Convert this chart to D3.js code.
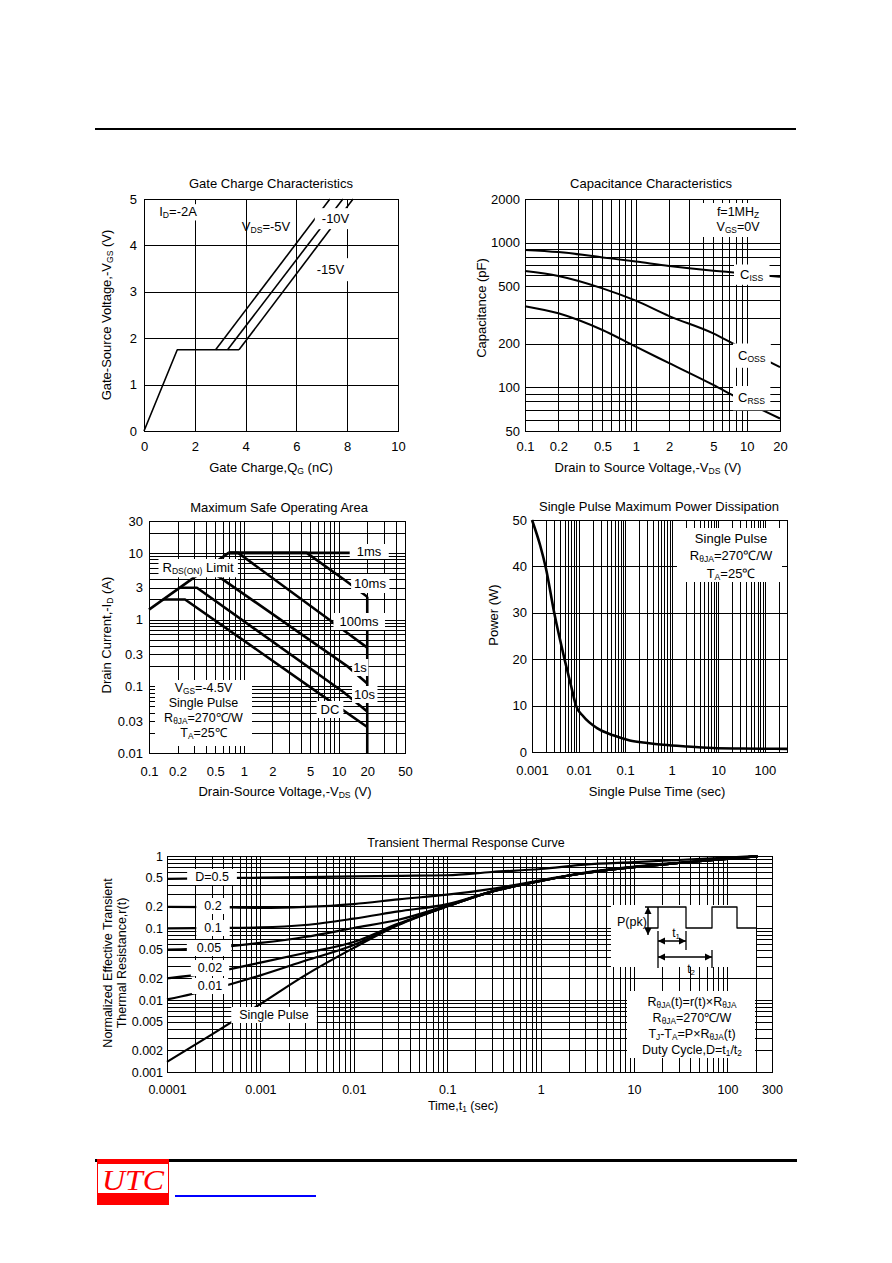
<!DOCTYPE html>
<html lang="en">
<head>
<meta charset="UTF-8">
<title>MOSFET typical characteristics</title>
<script src="https://cdn.jsdelivr.net/npm/d3@7"></script>
<style>
  body { margin: 0; background: #fff; }
  svg { display: block; }
  text { font-family: "Liberation Sans", Arial, sans-serif; fill: #000; }
  .grid line { stroke: #000; stroke-width: 1; shape-rendering: crispEdges; }
  .frame { fill: none; stroke: #000; stroke-width: 1; shape-rendering: crispEdges; }
  .curve { fill: none; stroke: #000; stroke-linejoin: round; }
</style>
</head>
<body>
<script>
// ---------- Gate charge ----------
var gcQ = [0, 1.31, 3.74];            // common rise and plateau (nC)
var gcVgs = [0, 1.75, 1.75];
var gcVdsNames = ["-5V", "-10V", "-15V"];
var gcRiseStart = [2.82, 3.29, 3.74]; // Qg where each line leaves the plateau
var gcRiseEnd = [7.32, 7.83, 8.23];   // Qg where each line reaches 5 V
var gcPlateau = 1.75;
var gcXTicks = [0, 2, 4, 6, 8, 10];
var gcYTicks = [0, 1, 2, 3, 4, 5];

// ---------- Capacitance ----------
var capVds = [0.1, 0.2, 0.5, 1, 2, 5, 8, 20];
var capCiss = [890, 860, 790, 740, 690, 640, 620, 580];
var capCoss = [636, 588, 483, 397, 311, 236, 196, 138];
var capCrss = [364, 325, 249, 191, 147, 104, 86, 61];
var capXTicks = [0.1, 0.2, 0.5, 1, 2, 5, 10, 20];
var capYTicks = [50, 100, 200, 500, 1000, 2000];

// ---------- Safe operating area ----------
var soaRdsV = [0.1, 0.69],             soaRdsI = [1.41, 10];
var soa1msV = [0.69, 20],              soa1msI = [10, 10];
var soa10msV = [0.69, 4.6, 11.65, 20], soa10msI = [10, 10, 3.88, 2.2];
var soa100msV = [0.69, 0.87, 8.1, 20], soa100msI = [10, 10, 0.975, 0.38];
var soa1sV = [0.32, 0.52, 12.6, 20],   soa1sI = [4.6, 4.6, 0.195, 0.11];
var soa10sV = [0.21, 0.32, 11.2, 20],  soa10sI = [3, 3, 0.082, 0.042];
var soaDcV = [0.14, 0.24, 8.4, 20],    soaDcI = [2, 2, 0.058, 0.0245];
var soaBvV = [20, 20],                 soaBvI = [2.2, 0.01];
var soaXTicks = [0.1, 0.2, 0.5, 1, 2, 5, 10, 20, 50];
var soaYTicks = [0.01, 0.03, 0.1, 0.3, 1, 3, 10, 30];

// ---------- Single pulse power ----------
var pdTime = [0.001, 0.0015, 0.002, 0.003, 0.005, 0.007, 0.0088, 0.0126, 0.0245, 0.0556, 0.126, 0.3, 0.657, 2, 7.6, 30, 100, 300];
var pdPower = [50, 44.5, 39.5, 30, 20, 14, 10, 7.7, 5.2, 3.6, 2.5, 1.95, 1.57, 1.2, 0.86, 0.75, 0.7, 0.68];
var pdXTicks = [0.001, 0.01, 0.1, 1, 10, 100];
var pdYTicks = [0, 10, 20, 30, 40, 50];

// ---------- Transient thermal response ----------
var ttTime = [0.0001, 0.0003, 0.001, 0.003, 0.01, 0.03, 0.1, 0.3, 1, 3, 10, 30, 100, 210];
var ttSingle = [0.00138, 0.0033, 0.0088, 0.022, 0.053, 0.11, 0.2, 0.32, 0.45, 0.58, 0.7, 0.8, 0.91, 0.99];
var ttD001 = [0.0102, 0.014, 0.022, 0.035, 0.058, 0.112, 0.2, 0.32, 0.45, 0.58, 0.7, 0.8, 0.91, 0.99];
var ttD002 = [0.02, 0.024, 0.033, 0.045, 0.064, 0.115, 0.2, 0.32, 0.45, 0.58, 0.7, 0.8, 0.91, 0.99];
var ttD005 = [0.05, 0.053, 0.062, 0.075, 0.1, 0.13, 0.205, 0.32, 0.45, 0.58, 0.7, 0.8, 0.91, 0.99];
var ttD01 = [0.099, 0.1, 0.102, 0.11, 0.135, 0.17, 0.215, 0.32, 0.45, 0.58, 0.7, 0.8, 0.91, 0.99];
var ttD02 = [0.197, 0.195, 0.19, 0.196, 0.215, 0.25, 0.29, 0.35, 0.46, 0.59, 0.71, 0.81, 0.92, 0.99];
var ttD05 = [0.48, 0.49, 0.5, 0.51, 0.52, 0.53, 0.54, 0.6, 0.66, 0.76, 0.82, 0.88, 0.95, 1.0];
var ttXTicks = [0.0001, 0.001, 0.01, 0.1, 1, 10, 100, 300];
var ttYTicks = [0.001, 0.002, 0.005, 0.01, 0.02, 0.05, 0.1, 0.2, 0.5, 1];

var svg = d3.select("body").append("svg").attr("width", 892).attr("height", 1263);
svg.append("rect").attr("width", 892).attr("height", 1263).attr("fill", "#fff");

// 1..9 x 10^k values strictly inside [lo, hi]
function logGrid(lo, hi) {
  var out = [];
  for (var e = Math.floor(Math.log10(lo)); e <= Math.ceil(Math.log10(hi)); e++) {
    for (var m = 1; m <= 9; m++) {
      var v = +(m * Math.pow(10, e)).toPrecision(4);
      if (v > lo * 1.0001 && v < hi * 0.9999) out.push(v);
    }
  }
  return out;
}

function frame(g, x, y, xGrid, yGrid) {
  var x0 = x.range()[0], x1 = x.range()[1], y0 = y.range()[0], y1 = y.range()[1];
  g.append("g").attr("class", "grid").attr("transform", "translate(0," + y0 + ")")
    .call(d3.axisBottom(x).tickValues(xGrid).tickSize(-(y0 - y1)).tickFormat(""))
    .call(function (s) { s.select(".domain").remove(); });
  g.append("g").attr("class", "grid").attr("transform", "translate(" + x0 + ",0)")
    .call(d3.axisLeft(y).tickValues(yGrid).tickSize(-(x1 - x0)).tickFormat(""))
    .call(function (s) { s.select(".domain").remove(); });
  g.append("rect").attr("class", "frame")
    .attr("x", x0).attr("y", y1).attr("width", x1 - x0).attr("height", y0 - y1);
}

function tickText(g, x, y, xt, yt, padB, padL, size) {
  var fmt = function (d) { return String(d); };
  var b = g.append("g").attr("transform", "translate(0," + y.range()[0] + ")")
    .call(d3.axisBottom(x).tickValues(xt).tickSize(0).tickPadding(padB).tickFormat(fmt));
  var l = g.append("g").attr("transform", "translate(" + x.range()[0] + ",0)")
    .call(d3.axisLeft(y).tickValues(yt).tickSize(0).tickPadding(padL).tickFormat(fmt));
  [b, l].forEach(function (a) {
    a.select(".domain").remove();
    a.attr("font-family", null).attr("font-size", null);
    a.selectAll("text").style("font-size", size + "px");
  });
}

// parts starting with "_" are subscripts
function rich(t, parts, size) {
  var low = false, drop = (size * 0.18).toFixed(1);
  parts.forEach(function (p) {
    var sub = p.charAt(0) === "_";
    var ts = t.append("tspan").text(sub ? p.slice(1) : p);
    if (sub) {
      ts.style("font-size", (size * 0.66).toFixed(1) + "px");
      if (!low) ts.attr("dy", drop);
      low = true;
    } else if (low) {
      ts.attr("dy", -drop);
      low = false;
    }
  });
}

function label(g, x, y, parts, o) {
  o = o || {};
  var size = o.size || 13;
  var grp = g.append("g");
  var t = grp.append("text").attr("x", x).attr("y", y)
    .attr("text-anchor", o.anchor || "start").style("font-size", size + "px");
  rich(t, parts, size);
  if (o.box) {
    var bb = t.node().getBBox();
    var px = o.px != null ? o.px : 3, py = o.py != null ? o.py : 1;
    grp.insert("rect", "text").attr("x", bb.x - px).attr("y", bb.y - py)
      .attr("width", bb.width + 2 * px).attr("height", bb.height + 2 * py).attr("fill", "#fff");
  }
  return grp;
}

function vTitle(g, x, y, parts, size) {
  label(g, 0, 0, parts, {anchor: "middle", size: size})
    .attr("transform", "translate(" + x + "," + y + ") rotate(-90)");
}

function curve(g, x, y, xs, ys, w, smooth) {
  var line = d3.line().x(function (d) { return x(d[0]); }).y(function (d) { return y(d[1]); });
  if (smooth) line.curve(d3.curveMonotoneX);
  g.append("path").attr("class", "curve").attr("stroke-width", w).attr("d", line(d3.zip(xs, ys)));
}

function whiteBox(g, x, y, w, h) {
  g.append("rect").attr("x", x).attr("y", y).attr("width", w).attr("height", h).attr("fill", "#fff");
}

// page rules
svg.append("rect").attr("x", 95).attr("y", 128).attr("width", 701).attr("height", 2).attr("fill", "#000");

// ================= Gate charge =================
var gc = svg.append("g");
var gcX = d3.scaleLinear().domain([0, 10]).range([144, 398]);
var gcY = d3.scaleLinear().domain([0, 5]).range([431, 199]);
frame(gc, gcX, gcY, gcXTicks.slice(1, -1), gcYTicks.slice(1, -1));
curve(gc, gcX, gcY, gcQ, gcVgs, 1.6);
gcRiseStart.forEach(function (q0, i) {
  curve(gc, gcX, gcY, [q0, gcRiseEnd[i]], [gcPlateau, 5], 1.6);
});
tickText(gc, gcX, gcY, gcXTicks, gcYTicks, 11, 7, 13);
label(gc, gcX(0.6), gcY(4.63), ["I", "_D", "=-2A"], {box: true, px: 1, py: 0});
label(gc, gcX(3.85), gcY(4.31), ["V", "_DS", "=" + gcVdsNames[0]]);
label(gc, gcX(7.0), gcY(4.48), [gcVdsNames[1]], {box: true, px: 7, py: 3});
label(gc, gcX(6.8), gcY(3.38), [gcVdsNames[2]], {box: true, px: 4, py: 4});
label(gc, 271, 188, ["Gate Charge Characteristics"], {anchor: "middle"});
label(gc, 271, 472, ["Gate Charge,Q", "_G", " (nC)"], {anchor: "middle"});
vTitle(gc, 111, 315, ["Gate-Source Voltage,-V", "_GS", " (V)"], 13);

// ================= Capacitance =================
var cap = svg.append("g");
var capX = d3.scaleLog().domain([0.1, 20]).range([525, 780]);
var capY = d3.scaleLog().domain([50, 2000]).range([431, 199]);
frame(cap, capX, capY, logGrid(0.1, 20), logGrid(50, 2000));
curve(cap, capX, capY, capVds, capCiss, 2, true);
curve(cap, capX, capY, capVds, capCoss, 2, true);
curve(cap, capX, capY, capVds, capCrss, 2, true);
tickText(cap, capX, capY, capXTicks, capYTicks, 11, 5, 13);
whiteBox(cap, 703, 203, 75, 34);
label(cap, 738, 216, ["f=1MH", "_Z"], {anchor: "middle", size: 12.5});
label(cap, 738, 231, ["V", "_GS", "=0V"], {anchor: "middle", size: 12.5});
label(cap, 740, 278.5, ["C", "_ISS"], {box: true, px: 6, py: 2});
label(cap, 738, 359.5, ["C", "_OSS"], {box: true, px: 5, py: 4});
label(cap, 738, 402, ["C", "_RSS"], {box: true, px: 5, py: 4});
label(cap, 651, 188, ["Capacitance Characteristics"], {anchor: "middle"});
label(cap, 648, 472, ["Drain to Source Voltage,-V", "_DS", " (V)"], {anchor: "middle"});
vTitle(cap, 486, 308, ["Capacitance (pF)"], 13);

// ================= Safe operating area =================
var soa = svg.append("g");
var soaX = d3.scaleLog().domain([0.1, 50]).range([149, 405]);
var soaY = d3.scaleLog().domain([0.01, 30]).range([753, 521]);
frame(soa, soaX, soaY, logGrid(0.1, 50), logGrid(0.01, 30));
[[soaRdsV, soaRdsI], [soa1msV, soa1msI], [soa10msV, soa10msI], [soa100msV, soa100msI],
 [soa1sV, soa1sI], [soa10sV, soa10sI], [soaDcV, soaDcI], [soaBvV, soaBvI]].forEach(function (c) {
  curve(soa, soaX, soaY, c[0], c[1], 2.6);
});
tickText(soa, soaX, soaY, soaXTicks, soaYTicks, 14, 6, 13);
label(soa, 198, 572, ["R", "_DS(ON)", " Limit"], {anchor: "middle", box: true, px: 4, py: 1});
label(soa, 369, 556, ["1ms"], {anchor: "middle", box: true, px: 7, py: 0});
label(soa, 370, 588, ["10ms"], {anchor: "middle", box: true, px: 3, py: 2});
label(soa, 359, 626, ["100ms"], {anchor: "middle", box: true, px: 6, py: 1});
label(soa, 360, 672, ["1s"], {anchor: "middle", box: true, px: 1, py: 1});
label(soa, 364.5, 699, ["10s"], {anchor: "middle", box: true, px: 2, py: 1});
label(soa, 330, 714, ["DC"], {anchor: "middle", box: true, px: 4, py: 1});
whiteBox(soa, 155, 680, 97, 66);
label(soa, 203.5, 692, ["V", "_GS", "=-4.5V"], {anchor: "middle", size: 12.5});
label(soa, 203.5, 707, ["Single Pulse"], {anchor: "middle", size: 12.5});
label(soa, 203.5, 722, ["R", "_θJA", "=270℃/W"], {anchor: "middle", size: 12.5});
label(soa, 203.5, 737, ["T", "_A", "=25℃"], {anchor: "middle", size: 12.5});
label(soa, 279, 512, ["Maximum Safe Operating Area"], {anchor: "middle"});
label(soa, 285, 796, ["Drain-Source Voltage,-V", "_DS", " (V)"], {anchor: "middle"});
vTitle(soa, 111, 635, ["Drain Current,-I", "_D", " (A)"], 13);

// ================= Single pulse power =================
var pd = svg.append("g");
var pdX = d3.scaleLog().domain([0.001, 300]).range([532, 787]);
var pdY = d3.scaleLinear().domain([0, 50]).range([752, 520]);
frame(pd, pdX, pdY, logGrid(0.001, 300), pdYTicks.slice(1, -1));
curve(pd, pdX, pdY, pdTime, pdPower, 2.6, true);
tickText(pd, pdX, pdY, pdXTicks, pdYTicks, 14, 5, 13);
whiteBox(pd, 677, 528, 105, 54);
label(pd, 731, 543, ["Single Pulse"], {anchor: "middle"});
label(pd, 731, 560, ["R", "_θJA", "=270℃/W"], {anchor: "middle"});
label(pd, 731, 578, ["T", "_A", "=25℃"], {anchor: "middle"});
label(pd, 659, 511, ["Single Pulse Maximum Power Dissipation"], {anchor: "middle"});
label(pd, 657, 796, ["Single Pulse Time (sec)"], {anchor: "middle"});
vTitle(pd, 498, 615, ["Power (W)"], 13);

// ================= Transient thermal response =================
var tt = svg.append("g");
var ttX = d3.scaleLog().domain([0.0001, 300]).range([167, 772]);
var ttY = d3.scaleLog().domain([0.001, 1]).range([1072, 856]);
frame(tt, ttX, ttY, logGrid(0.0001, 300), logGrid(0.001, 1));
[ttD05, ttD02, ttD01, ttD005, ttD002, ttD001, ttSingle].forEach(function (r) {
  curve(tt, ttX, ttY, ttTime, r, 2.2, true);
});
tickText(tt, ttX, ttY, ttXTicks, ttYTicks, 13, 4, 12.5);
label(tt, 212, 881, ["D=0.5"], {anchor: "middle", size: 12.5, box: true, px: 8, py: 1});
label(tt, 213, 910, ["0.2"], {anchor: "middle", size: 12.5, box: true, px: 8, py: 1});
label(tt, 213, 932, ["0.1"], {anchor: "middle", size: 12.5, box: true, px: 8, py: 1});
label(tt, 209, 952, ["0.05"], {anchor: "middle", size: 12.5, box: true, px: 10, py: 1});
label(tt, 210, 972, ["0.02"], {anchor: "middle", size: 12.5, box: true, px: 7, py: 1});
label(tt, 210, 990, ["0.01"], {anchor: "middle", size: 12.5, box: true, px: 6, py: 1});
label(tt, 274, 1019, ["Single Pulse"], {anchor: "middle", size: 12.5, box: true, px: 8, py: 1});

// pulse sketch
whiteBox(tt, 611, 905, 145, 62);
var xA = 648, xe0 = 658, xe1 = 686, xe2 = 712, xe3 = 737, xe4 = 756, yHi = 907, yLo = 928;
tt.append("path").attr("class", "curve").attr("stroke-width", 1.3)
  .attr("d", "M" + (xA - 3) + "," + yHi + "H" + xe0 + "M" + (xA - 3) + "," + yLo + "H" + xe0 +
    "V" + yHi + "H" + xe1 + "V" + yLo + "H" + xe2 + "V" + yHi + "H" + xe3 + "V" + yLo + "H" + xe4);
function head(g, x, y, dir) {
  var s = 7, w = 3.5, p;
  if (dir === "up") p = [[x, y], [x - w, y + s], [x + w, y + s]];
  if (dir === "down") p = [[x, y], [x - w, y - s], [x + w, y - s]];
  if (dir === "left") p = [[x, y], [x + s, y - w], [x + s, y + w]];
  if (dir === "right") p = [[x, y], [x - s, y - w], [x - s, y + w]];
  g.append("path").attr("d", "M" + p.join("L") + "Z").attr("fill", "#000");
}
var ar = tt.append("g");
ar.append("path").attr("class", "curve").attr("stroke-width", 1.3)
  .attr("d", "M" + xA + "," + yHi + "V" + (yLo + 7) +
    "M" + xe0 + ",931V968M" + xe1 + ",931V950M" + xe2 + ",950V968" +
    "M" + xe0 + ",941H" + xe1 + "M" + xe0 + ",957H" + xe2);
head(ar, xA, yHi, "up");
head(ar, xA, yLo + 7, "down");
head(ar, xe0, 941, "left");
head(ar, xe1, 941, "right");
head(ar, xe0, 957, "left");
head(ar, xe2, 957, "right");
label(tt, 617, 926, ["P(pk)"], {size: 12.5});
label(tt, 676, 937, ["t", "_1"], {anchor: "middle", size: 12});
label(tt, 691, 973, ["t", "_2"], {anchor: "middle", size: 12});

whiteBox(tt, 627, 991, 128, 67);
label(tt, 692, 1006, ["R", "_θJA", "(t)=r(t)×R", "_θJA"], {anchor: "middle", size: 12.5});
label(tt, 692, 1022, ["R", "_θJA", "=270℃/W"], {anchor: "middle", size: 12.5});
label(tt, 692, 1038, ["T", "_J", "-T", "_A", "=P×R", "_θJA", "(t)"], {anchor: "middle", size: 12.5});
label(tt, 692, 1054, ["Duty Cycle,D=t", "_1", "/t", "_2"], {anchor: "middle", size: 12.5});

label(tt, 466, 847, ["Transient Thermal Response Curve"], {anchor: "middle", size: 12.5});
label(tt, 463, 1110, ["Time,t", "_1", " (sec)"], {anchor: "middle", size: 12.5});
vTitle(tt, 112, 963, ["Normalized Effective Transient"], 12.5);
vTitle(tt, 126, 963, ["Thermal Resistance,r(t)"], 12.5);

// ================= Footer =================
svg.append("rect").attr("x", 95).attr("y", 1159).attr("width", 702).attr("height", 3).attr("fill", "#000");
svg.append("rect").attr("x", 97).attr("y", 1159).attr("width", 72).attr("height", 46).attr("fill", "#f00");
svg.append("rect").attr("x", 98).attr("y", 1164).attr("width", 70).attr("height", 29).attr("fill", "#fff");
svg.append("text").attr("x", 133).attr("y", 1190).attr("text-anchor", "middle")
  .attr("textLength", 62).attr("lengthAdjust", "spacingAndGlyphs")
  .style("font-family", "'Liberation Serif', 'Times New Roman', serif")
  .style("font-style", "italic").style("font-size", "30px").style("fill", "#f00")
  .text("UTC");
svg.append("rect").attr("x", 175).attr("y", 1195).attr("width", 141).attr("height", 2).attr("fill", "#00f");
</script>
</body>
</html>
